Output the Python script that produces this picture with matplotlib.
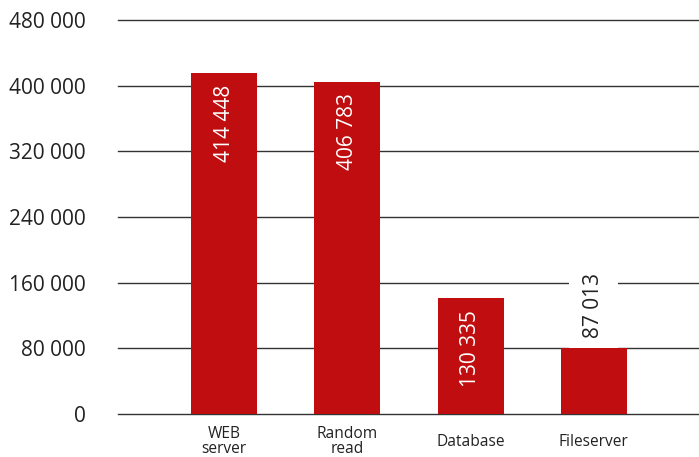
import matplotlib
matplotlib.use("Agg")
from matplotlib import pyplot as plt

categories = ["WEB\nserver", "Random\nread", "Database", "Fileserver"]
# bar heights as drawn in the picture, and the printed value labels
bar_heights = [415000, 405000, 141500, 81000]
value_labels = ["414 448", "406 783", "130 335", "87 013"]
y_ticks = [0, 80000, 160000, 240000, 320000, 400000, 480000]

plt.rcParams["font.family"] = ["Open Sans", "DejaVu Sans"]

fig = plt.figure(figsize=(6.99, 4.57), dpi=100)
ax = fig.add_axes([118 / 699, 43 / 457, 581 / 699, 394 / 457])

x = list(range(len(categories)))
ax.bar(x, bar_heights, width=0.537, color="#c00e10", zorder=2)

ax.set_ylim(0, 480000)
ax.set_xlim(-0.862, 3.854)
ax.set_yticks(y_ticks)
ax.set_yticklabels([f"{v:,}".replace(",", " ") for v in y_ticks],
                   fontsize=15, color="#222222")
ax.tick_params(axis="y", length=0, pad=23)
ax.set_xticks(x)
ax.set_xticklabels(categories, fontsize=11.2, color="#222222",
                   va="center", linespacing=0.95)
ax.tick_params(axis="x", length=0, pad=20)
ax.grid(axis="y", color="#333333", linewidth=1.0, zorder=0)
ax.set_axisbelow(True)
for gl in ax.get_ygridlines():
    gl.set_clip_on(False)
for s in ax.spines.values():
    s.set_visible(False)

for xi, h, lab in zip(x, bar_heights, value_labels):
    if h > 120000:
        ax.annotate(lab, (xi, h), xytext=(0, -8.5), textcoords="offset points",
                    ha="center", va="top", rotation=90, fontsize=15,
                    color="white", zorder=3)
    else:
        ax.annotate(lab, (xi, h), xytext=(0, 7), textcoords="offset points",
                    ha="center", va="bottom", rotation=90, fontsize=15,
                    color="#222222", zorder=1.5,
                    bbox=dict(facecolor="white", edgecolor="none", pad=10))

fig.savefig("out.png", dpi=100)
